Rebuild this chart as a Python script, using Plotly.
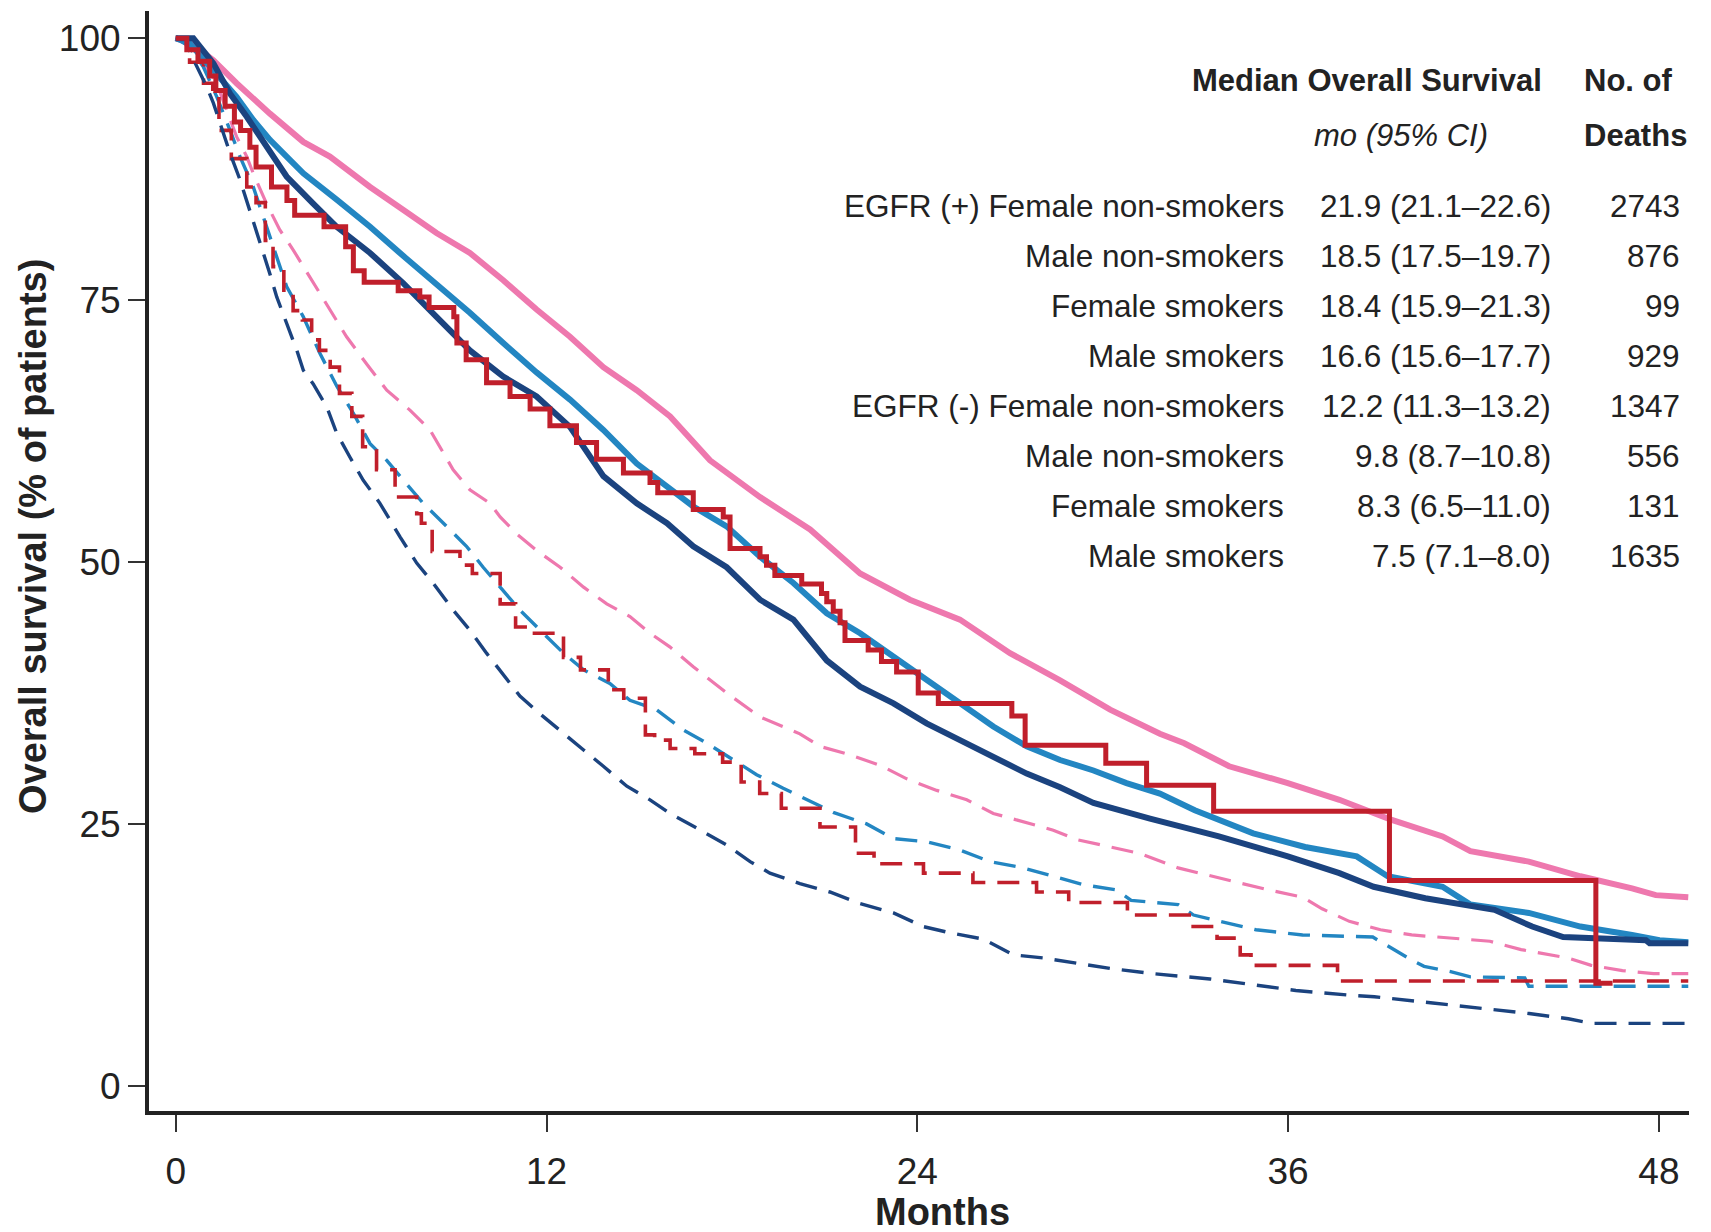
import plotly.graph_objects as go

# ---------------- data ----------------
months_ticks = [0, 12, 24, 36, 48]
surv_ticks = [0, 25, 50, 75, 100]

# EGFR (+)
pos_f_ns_t = [0, 0.5, 1.22, 1.97, 3.05, 4.13, 4.99, 6.29, 7.37, 8.44, 9.52, 10.6, 11.68, 12.76, 13.84,
              14.92, 16.0, 17.29, 18.91, 20.53, 22.15, 23.76, 25.38, 27.0, 28.62, 30.24, 31.85, 32.64,
              34.09, 35.99, 37.66, 39.33, 41.0, 41.9, 43.79, 45.46, 47.13, 47.9, 48.95]
pos_f_ns_v = [100, 99.5, 97.9, 95.7, 92.8, 90.1, 88.7, 85.8, 83.6, 81.4, 79.5, 76.9, 74.1, 71.5, 68.6,
              66.4, 63.9, 59.7, 56.2, 53.1, 48.9, 46.4, 44.5, 41.3, 38.7, 35.9, 33.6, 32.7,
              30.5, 28.9, 27.3, 25.4, 23.8, 22.4, 21.4, 20.0, 18.85, 18.2, 18.0]

pos_m_ns_t = [0, 0.46, 1.11, 1.97, 2.51, 3.05, 3.59, 4.13, 5.21, 6.29, 7.37, 8.44, 9.52, 10.6, 11.68,
              12.76, 13.84, 14.92, 15.9, 16.75, 17.83, 18.91, 19.99, 21.07, 22.15, 23.23, 24.3, 25.38,
              26.46, 27.54, 28.62, 29.7, 30.77, 31.85, 32.98, 34.87, 36.55, 38.22, 39.22, 41.0, 41.9,
              43.79, 45.46, 47.13, 48.02, 48.95]
pos_m_ns_v = [100, 99.5, 97.3, 94.4, 92.2, 90.3, 88.7, 87.1, 84.6, 82.0, 79.2, 76.6, 73.8, 70.9, 68.1,
              65.5, 62.6, 59.4, 57.2, 55.3, 53.4, 50.5, 48.0, 45.1, 43.2, 41.0, 38.7, 36.5,
              34.3, 32.4, 31.1, 30.1, 28.9, 27.9, 26.3, 24.1, 22.8, 21.9, 20.0, 19.0, 17.3,
              16.5, 15.2, 14.4, 13.9, 13.7]

pos_f_s_t = [0, 0.36, 0.72, 1.1, 1.3, 1.6, 1.9, 2.1, 2.4, 2.6, 3.1, 3.6, 3.85, 4.8, 5.5, 5.75, 6.1, 7.2,
             7.9, 8.2, 9.0, 9.1, 9.4, 10.06, 10.82, 11.47, 12.11, 12.97, 13.62, 14.49, 15.35, 15.6,
             16.75, 17.72, 17.94, 18.91, 19.12, 19.39, 20.26, 20.9, 21.07, 21.28, 21.5, 21.66, 22.41,
             22.84, 23.33, 24.03, 24.68, 27.06, 27.49, 30.1, 31.42, 33.59, 39.28, 45.96, 46.5]
pos_f_s_v = [100, 98.9, 97.8, 96.4, 95.0, 93.5, 92.0, 91.2, 89.6, 87.7, 85.8, 84.5, 83.1, 82.0, 80.1,
             77.8, 76.7, 75.9, 75.3, 74.3, 73.4, 70.9, 69.3, 67.1, 65.8, 64.6, 63.0, 61.4, 59.8, 58.5,
             57.6, 56.6, 55.0, 54.3, 51.3, 50.5, 49.7, 48.7, 47.9, 47.0, 46.2, 45.3, 44.2, 42.5, 41.6,
             40.5, 39.5, 37.5, 36.5, 35.3, 32.5, 30.8, 28.7, 26.2, 19.6, 9.8, 9.8]

pos_m_s_t = [0, 0.57, 1.22, 1.76, 2.3, 3.05, 3.59, 4.45, 5.21, 6.29, 7.37, 8.44, 9.52, 10.6, 11.68,
             12.76, 13.84, 14.92, 15.9, 16.75, 17.83, 18.91, 19.99, 21.07, 22.15, 23.23, 24.3, 25.38,
             26.46, 27.54, 28.62, 29.7, 31.53, 33.76, 35.99, 37.66, 38.77, 40.44, 42.68, 43.9, 44.9,
             47.58, 47.7, 48.95]
pos_m_s_v = [100, 100, 97.6, 94.7, 92.5, 89.3, 86.8, 84.2, 82.0, 79.5, 76.6, 73.4, 70.2, 67.7, 65.8,
             62.9, 58.2, 55.6, 53.7, 51.5, 49.5, 46.4, 44.5, 40.6, 38.1, 36.5, 34.6, 33.0,
             31.4, 29.8, 28.5, 27.0, 25.5, 23.8, 21.9, 20.3, 19.0, 17.9, 16.8, 15.2, 14.2,
             13.9, 13.6, 13.6]

# EGFR (-)
neg_f_ns_t = [0, 0.4, 0.89, 1.33, 1.65, 1.97, 2.3, 2.51, 2.94, 3.37, 3.8, 4.34, 4.89, 5.53, 6.18, 6.83,
              7.58, 8.23, 8.98, 9.52, 10.17, 10.5, 11.03, 11.68, 12.44, 13.2, 13.95, 14.7, 15.35, 15.99,
              16.75, 17.83, 18.91, 20.2, 20.85, 21.82, 22.79, 23.66, 24.63, 25.6, 26.46, 27.43, 28.4,
              29.16, 29.91, 31.17, 32.44, 33.7, 35.22, 36.47, 37.1, 37.98, 38.99, 40.0, 41.26, 42.53,
              43.54, 45.06, 45.81, 46.82, 47.83, 48.95]
neg_f_ns_v = [100, 99.3, 97.6, 95.7, 93.1, 90.6, 88.7, 87.1, 84.2, 81.7, 79.8, 77.2, 74.7, 71.5, 68.9,
              66.4, 64.5, 62.6, 58.8, 56.9, 55.6, 54.3, 52.7, 51.1, 49.5, 47.6, 46.0, 44.8, 43.2, 41.9,
              40.0, 37.5, 35.2, 33.6, 32.4, 31.6, 30.6, 29.3, 28.2, 27.3, 26.0, 25.2, 24.4,
              23.5, 23.0, 22.2, 20.8, 19.9, 18.8, 18.0, 16.9, 15.7, 14.9, 14.4, 14.1, 13.8,
              13.0, 12.2, 11.5, 11.0, 10.7, 10.7]

neg_m_ns_t = [0, 0.4, 0.89, 1.33, 1.76, 2.08, 2.51, 3.0, 3.59, 4.13, 4.67, 5.21, 5.75, 6.29, 6.83, 7.37,
              8.01, 8.77, 9.41, 9.95, 10.6, 11.14, 11.79, 12.55, 13.2, 14.05, 14.7, 15.56, 16.43, 17.08,
              18.05, 18.8, 19.66, 20.42, 21.28, 22.36, 23.23, 24.3, 25.38, 26.35, 27.43, 28.4, 29.37,
              30.45, 30.92, 32.44, 32.94, 34.96, 36.47, 38.74, 39.25, 40.0, 40.4, 41.26, 41.9, 43.66,
              43.79, 48.95]
neg_m_ns_v = [100, 99.3, 97.3, 94.4, 91.2, 88.7, 85.8, 81.5, 76.3, 73.4, 69.9, 66.8, 64.2, 61.3, 59.7,
              57.8, 55.6, 53.4, 51.5, 49.5, 47.3, 45.4, 43.5, 41.3, 39.7, 38.4, 36.8, 35.9, 33.96, 32.9,
              31.1, 29.7, 28.4, 27.3, 26.1, 25.0, 23.6, 23.3, 22.5, 21.4, 20.8, 20.0, 19.2,
              18.7, 17.7, 17.3, 16.3, 14.9, 14.4, 14.2, 13.3, 12.0, 11.4, 10.9, 10.4, 10.3,
              9.5, 9.5]

neg_f_s_t = [0, 0.45, 0.9, 1.2, 1.4, 1.8, 2.3, 2.6, 2.9, 3.15, 3.5, 3.8, 4.1, 4.4, 4.65, 5.0, 5.3, 5.7,
             6.05, 6.5, 7.1, 7.8, 7.95, 8.3, 9.2, 9.6, 10.5, 11.0, 11.4, 12.55, 13.1, 14.0, 14.5, 15.2,
             15.5, 16.0, 16.8, 17.7, 18.3, 18.9, 19.6, 20.85, 22.0, 22.6, 24.2, 25.8, 27.86, 28.9,
             30.8, 32.8, 33.7, 34.45, 34.8, 37.6, 48.95]
neg_f_s_v = [100, 97.7, 95.7, 94.4, 91.2, 88.5, 85.8, 84.3, 80.7, 78.2, 75.6, 74.0, 73.1, 71.2, 70.2,
             68.6, 66.1, 63.9, 61.0, 58.8, 56.2, 54.6, 53.7, 51.0, 49.7, 48.9, 46.0, 43.8, 43.2, 40.9,
             39.7, 37.8, 37.0, 33.5, 33.0, 32.2, 31.7, 30.9, 29.0, 27.9, 26.5, 24.7, 22.2, 21.2, 20.3,
             19.4, 18.5, 17.5, 16.3, 15.2, 14.1, 12.5, 11.5, 10.0, 10.0]

neg_m_s_t = [0, 0.3, 0.62, 1.0, 1.22, 1.43, 1.76, 2.08, 2.4, 2.73, 3.05, 3.27, 3.59, 3.92, 4.13, 4.45,
             4.89, 5.21, 5.64, 6.07, 6.61, 7.26, 7.8, 8.34, 8.98, 9.52, 10.06, 10.6, 11.14, 11.79, 12.55,
             13.2, 13.84, 14.6, 15.35, 15.99, 16.86, 17.83, 18.59, 19.23, 20.2, 21.17, 22.15, 23.23,
             24.19, 25.06, 26.14, 27.11, 28.08, 29.16, 30.24, 31.64, 33.47, 34.99, 36.25, 37.9, 38.79,
             40.68, 42.6, 43.8, 45.07, 45.83, 48.95]
neg_m_s_v = [100, 99.8, 97.7, 95.4, 93.8, 91.9, 89.0, 86.5, 83.6, 80.4, 77.5, 75.3, 72.8, 70.2, 68.3,
             67.0, 64.8, 62.3, 60.0, 57.8, 55.6, 52.4, 49.9, 47.96, 45.4, 43.5, 41.3, 39.3, 37.2, 35.5,
             33.7, 32.06, 30.5, 28.6, 27.3, 26.0, 24.6, 22.98, 21.4, 20.3, 19.3, 18.5, 17.4, 16.5,
             15.2, 14.6, 14.0, 12.5, 12.2, 11.7, 11.2, 10.7, 10.2, 9.6, 9.1, 8.67, 8.5,
             7.9, 7.3, 6.9, 6.4, 5.96, 5.96]

row_labels = ["EGFR (+) Female non-smokers", "Male non-smokers", "Female smokers", "Male smokers",
              "EGFR (-) Female non-smokers", "Male non-smokers", "Female smokers", "Male smokers"]
row_medians = ["21.9 (21.1\u201322.6)", "18.5 (17.5\u201319.7)", "18.4 (15.9\u201321.3)", "16.6 (15.6\u201317.7)",
               "12.2 (11.3\u201313.2)", "9.8 (8.7\u201310.8)", "8.3 (6.5\u201311.0)", "7.5 (7.1\u20138.0)"]
row_deaths = ["2743", "876", "99", "929", "1347", "556", "131", "1635"]

# ---------------- styling ----------------
PINK = "#EE78AE"
LBLUE = "#2386C2"
NAVY = "#1B437F"
RED = "#C01F2B"
INK = "#222222"
FONT = "Liberation Sans, Arial, Helvetica, sans-serif"

W, H = 1711, 1232
ML, MR, MT, MB = 149, 22, 11, 121
PW, PH = W - ML - MR, H - MT - MB


def px(x):
    return (x - ML) / PW


def py(y):
    return 1 - (y - MT) / PH


fig = go.Figure()

dash = "22px,12px"
dashed = [
    (neg_f_ns_t, neg_f_ns_v, PINK, "linear", 3.2),
    (neg_m_ns_t, neg_m_ns_v, LBLUE, "linear", 3.4),
    (neg_f_s_t, neg_f_s_v, RED, "hv", 3.6),
    (neg_m_s_t, neg_m_s_v, NAVY, "linear", 3.4),
]
for t, v, c, shp, w in dashed:
    fig.add_trace(go.Scatter(x=t, y=v, mode="lines", line=dict(color=c, width=w, dash=dash, shape=shp),
                             showlegend=False, hoverinfo="skip"))

solid = [
    (pos_f_ns_t, pos_f_ns_v, PINK, "linear", 6),
    (pos_m_ns_t, pos_m_ns_v, LBLUE, "linear", 6),
    (pos_m_s_t, pos_m_s_v, NAVY, "linear", 6),
    (pos_f_s_t, pos_f_s_v, RED, "hv", 5),
]
for t, v, c, shp, w in solid:
    fig.add_trace(go.Scatter(x=t, y=v, mode="lines", line=dict(color=c, width=w, shape=shp),
                             showlegend=False, hoverinfo="skip"))

axis_common = dict(showgrid=False, zeroline=False, showline=True, linewidth=4, linecolor=INK,
                   ticks="outside", ticklen=17, tickwidth=1.5, tickcolor="#333333",
                   tickfont=dict(family=FONT, size=37, color=INK))

fig.update_xaxes(range=[(ML - 175.7) / 30.9, (W - MR - 175.7) / 30.9], tickvals=months_ticks,
                 ticktext=[str(m) for m in months_ticks], ticklabelstandoff=8, **axis_common)
fig.update_yaxes(range=[(1085.8 - (H - MB)) / 10.476, (1085.8 - MT) / 10.476], tickvals=surv_ticks,
                 ticktext=[str(s) for s in surv_ticks], **axis_common)

ann = []
# axis titles
ann.append(dict(text="<b>Months</b>", x=px(942), y=py(1212), xanchor="center", yanchor="middle",
                font=dict(family=FONT, size=38, color=INK)))
ann.append(dict(text="<b>Overall survival (% of patients)</b>", x=px(33), y=py(537), textangle=-90,
                xanchor="center", yanchor="middle", font=dict(family=FONT, size=38, color=INK)))

# table header
ann.append(dict(text="<b>Median Overall Survival</b>", x=px(1544), y=py(80), xanchor="right",
                yanchor="middle", font=dict(family=FONT, size=31, color=INK)))
ann.append(dict(text="<i>mo (95% CI)</i>", x=px(1401), y=py(135), xanchor="center",
                yanchor="middle", font=dict(family=FONT, size=31, color=INK)))
ann.append(dict(text="<b>No. of</b>", x=px(1582), y=py(80), xanchor="left",
                yanchor="middle", font=dict(family=FONT, size=31, color=INK)))
ann.append(dict(text="<b>Deaths</b>", x=px(1582), y=py(135), xanchor="left",
                yanchor="middle", font=dict(family=FONT, size=31, color=INK)))

for i, (lab, med, dth) in enumerate(zip(row_labels, row_medians, row_deaths)):
    yy = py(206 + 50 * i)
    ann.append(dict(text=lab, x=px(1286), y=yy, xanchor="right", yanchor="middle",
                    font=dict(family=FONT, size=31.5, color=INK)))
    ann.append(dict(text=med, x=px(1553), y=yy, xanchor="right", yanchor="middle",
                    font=dict(family=FONT, size=31.5, color=INK)))
    ann.append(dict(text=dth, x=px(1682), y=yy, xanchor="right", yanchor="middle",
                    font=dict(family=FONT, size=31.5, color=INK)))

for a in ann:
    a.update(xref="paper", yref="paper", showarrow=False)

fig.update_layout(width=W, height=H, margin=dict(l=ML, r=MR, t=MT, b=MB, pad=0),
                  paper_bgcolor="white", plot_bgcolor="white", annotations=ann,
                  font=dict(family=FONT, color=INK))

fig.write_html("out.html")
